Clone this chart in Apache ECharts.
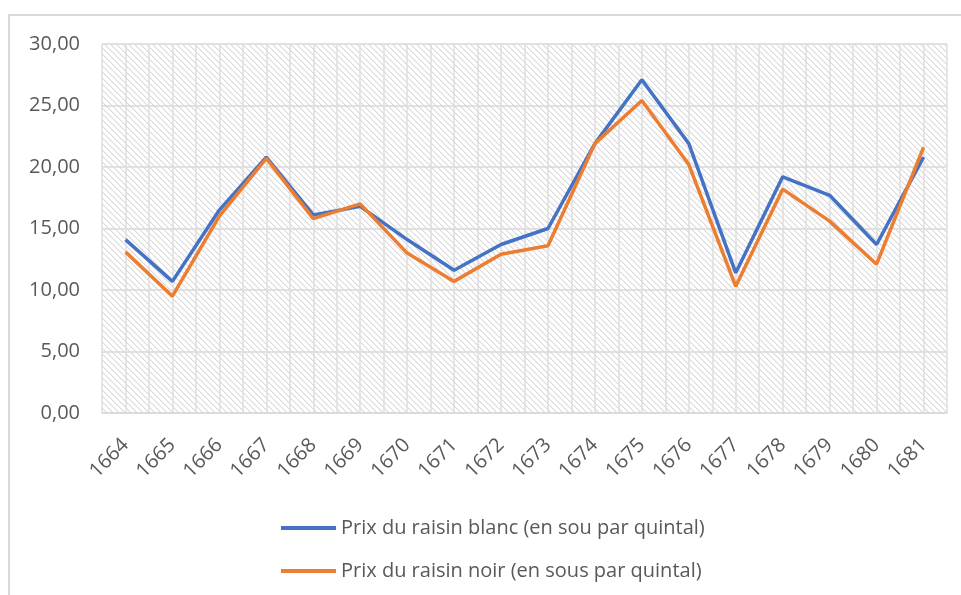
<!DOCTYPE html>
<html>
<head>
<meta charset="utf-8">
<script src="https://cdn.jsdelivr.net/npm/echarts@6/dist/echarts.min.js"></script>
<style>
html,body{margin:0;padding:0;background:#fff;}
#frame{position:absolute;left:8px;top:14px;width:960px;height:590px;border-left:2px solid #d9d9d9;border-top:2px solid #d9d9d9;}
#chart{position:absolute;left:0;top:0;width:961px;height:595px;}
</style>
</head>
<body>
<div id="frame"></div>
<div id="chart"></div>
<script>
const years = ['1664','1665','1666','1667','1668','1669','1670','1671','1672','1673','1674','1675','1676','1677','1678','1679','1680','1681'];
const blanc = [14.1,10.7,16.5,20.8,16.1,16.8,14.1,11.6,13.7,15.0,21.9,27.1,21.9,11.4,19.2,17.7,13.7,20.8];
const noir  = [13.1,9.5,16.0,20.7,15.8,17.0,13.0,10.7,12.9,13.6,21.9,25.4,20.2,10.3,18.2,15.6,12.1,21.6];
const seriesNames = ['Prix du raisin blanc (en sou par quintal)','Prix du raisin noir (en sous par quintal)'];
const halfSlots = years.flatMap(y => [y + 'a', y + 'b']);

// hatch pattern tile
const tile = document.createElement('canvas');
tile.width = 6; tile.height = 6;
const tctx = tile.getContext('2d');
tctx.fillStyle = '#ffffff';
tctx.fillRect(0,0,6,6);
for (let i = 0; i < 6; i++) {
  tctx.fillStyle = '#d9d9d9'; tctx.fillRect(i, i, 1, 1);
  tctx.fillStyle = '#efefef'; tctx.fillRect((i + 1) % 6, i, 1, 1);
}

const chart = echarts.init(document.getElementById('chart'), null, {renderer:'canvas'});
const font = 'Open Sans';
chart.setOption({
  animation: false,
  textStyle: {fontFamily: font},
  grid: {left: 102, right: 14, top: 44, bottom: 182, show: true, borderWidth: 0,
         backgroundColor: {image: tile, repeat: 'repeat'}},
  legend: {
    orient: 'vertical', left: 276, top: 513, itemWidth: 55, itemHeight: 4, itemGap: 23,
    icon: 'rect',
    textStyle: {fontSize: 20, color: '#595959', fontFamily: font},
    data: seriesNames
  },
  xAxis: [{
    type: 'category', data: years, boundaryGap: true,
    axisLine: {show: true, lineStyle: {color: '#d9d9d9', width: 1.5}},
    axisTick: {show: false},
    splitLine: {show: false},
    axisLabel: {rotate: 45, fontSize: 20, color: '#595959', margin: 29, interval: 0, fontFamily: font}
  },{
    type: 'category', data: halfSlots, boundaryGap: true, position: 'bottom',
    axisLine: {show: false}, axisTick: {show: false}, axisLabel: {show: false},
    splitLine: {show: true, interval: 0, lineStyle: {color: '#dedede', width: 1.5}}
  }],
  yAxis: {
    type: 'value', min: 0, max: 30, interval: 5,
    axisLine: {show: false}, axisTick: {show: false},
    splitLine: {show: true, lineStyle: {color: '#d9d9d9', width: 1.5}},
    axisLabel: {fontSize: 20, color: '#595959', margin: 22, fontFamily: font,
      formatter: v => v.toFixed(2).replace('.', ',')}
  },
  series: [
    {name: seriesNames[0], type: 'line', data: blanc, symbol: 'none', xAxisIndex: 0,
     lineStyle: {color: '#4472C4', width: 3.5}, itemStyle: {color: '#4472C4'}},
    {name: seriesNames[1], type: 'line', data: noir, symbol: 'none', xAxisIndex: 0,
     lineStyle: {color: '#ED7D31', width: 3.5}, itemStyle: {color: '#ED7D31'}}
  ]
});
</script>
</body>
</html>
